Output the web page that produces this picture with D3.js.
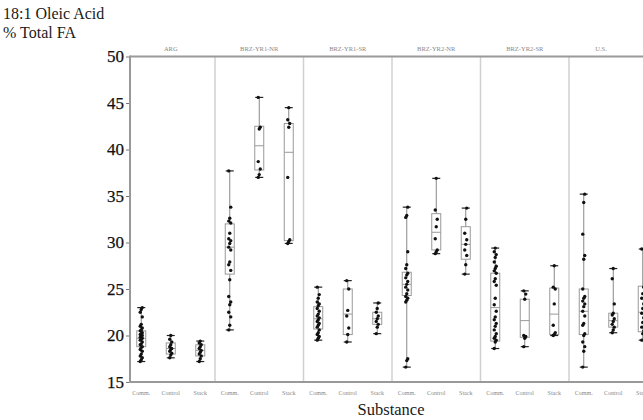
<!DOCTYPE html>
<html><head><meta charset="utf-8">
<script src="https://cdn.jsdelivr.net/npm/d3@7"></script>
<style>body{margin:0;background:#fff}svg{display:block}
svg text{font-family:"Liberation Serif","Times New Roman","DejaVu Serif",serif !important;}</style>
</head><body>
<svg id="c" width="643" height="420"></svg>
<script>
const panels = ["ARG","BRZ-YR1-NR","BRZ-YR1-SR","BRZ-YR2-NR","BRZ-YR2-SR","U.S."];
const substances = ["Comm.","Control","Stack"];
const yTicks = [15,20,25,30,35,40,45,50];

// box stats per panel: [min, q1, median, q3, max] for Comm., Control, Stack
const statsARG  = [[17.2,18.8,19.7,20.5,23.0],[17.6,18.0,18.6,19.2,20.0],[17.2,17.8,18.4,19.0,19.4]];
const statsYR1N = [[20.6,26.6,29.5,32.0,37.7],[37.0,37.8,40.4,42.5,45.6],[29.9,30.2,39.7,42.8,44.5]];
const statsYR1S = [[19.5,20.7,21.8,23.1,25.2],[19.3,20.1,22.3,25.0,25.9],[20.2,21.2,21.8,22.5,23.5]];
const statsYR2N = [[16.6,24.3,25.5,26.8,33.8],[28.8,29.2,31.1,33.1,36.9],[26.6,28.2,29.8,31.7,33.7]];
const statsYR2S = [[18.6,19.4,23.0,26.7,29.4],[18.8,19.8,21.6,23.9,24.8],[20.0,20.1,22.3,25.1,27.5]];
const statsUS   = [[16.6,20.1,22.6,25.0,35.2],[20.3,20.9,21.6,22.4,27.2],[19.5,20.4,22.5,25.3,29.3]];

// observations per panel for Comm., Control, Stack
const ptsARG = [
  [17.2,17.4,17.6,17.8,18.0,18.3,18.5,18.7,18.8,19.0,19.1,19.3,19.5,19.6,19.7,19.8,19.9,20.0,20.1,20.2,20.3,20.5,20.6,20.8,21.0,21.2,22.0,22.5,22.8,23.0],
  [17.6,17.9,18.1,18.3,18.5,18.6,18.8,19.0,19.3,19.6,20.0],
  [17.2,17.5,17.8,18.0,18.2,18.4,18.6,18.8,19.0,19.2,19.4]];
const ptsYR1N = [
  [20.6,21.1,22.0,22.5,23.3,23.6,24.2,26.0,27.0,27.6,27.9,29.2,29.5,29.9,30.2,30.4,31.0,32.1,32.3,32.6,33.8,37.7],
  [37.0,37.3,37.9,38.7,42.2,42.4,45.6],
  [29.9,30.1,30.3,37.0,42.4,42.8,43.2,44.5]];
const ptsYR1S = [
  [19.5,19.7,19.9,20.1,20.3,20.6,20.9,21.1,21.3,21.5,21.7,21.9,22.1,22.3,22.6,22.9,23.2,23.4,23.6,24.0,24.4,25.2],
  [19.3,20.1,20.8,22.1,22.7,25.0,25.9],
  [20.2,20.9,21.2,21.5,21.8,22.1,22.5,22.9,23.5]];
const ptsYR2N = [
  [16.6,17.3,17.5,23.6,23.8,24.0,24.2,24.5,24.9,25.2,25.5,25.8,26.2,26.5,26.7,27.2,27.6,29.0,32.7,32.9,33.8],
  [28.8,29.0,29.2,30.4,31.7,32.5,33.5,36.9],
  [26.6,27.6,28.6,29.2,29.8,30.3,31.0,32.5,33.7]];
const ptsYR2S = [
  [18.6,19.3,19.5,19.7,19.9,20.2,20.6,21.0,21.3,21.7,22.0,22.6,23.3,24.0,25.4,25.8,26.1,26.7,26.95,27.2,27.45,27.9,28.4,28.7,29.0,29.4],
  [18.8,19.7,19.9,20.0,23.9,24.45,24.8],
  [20.0,20.1,20.3,21.1,23.4,25.0,25.2,27.5]];
const ptsUS = [
  [16.6,18.3,18.8,19.3,20.0,20.2,21.1,21.3,22.1,22.6,23.1,23.4,23.7,24.0,24.2,25.0,28.2,28.6,30.9,34.3,35.2],
  [20.3,20.6,20.9,21.2,21.5,21.8,22.2,22.4,23.4,26.1,27.2],
  [19.5,20.2,20.5,20.9,21.4,21.9,22.4,22.9,23.4,24.0,24.5,25.2,29.3]];

const allStats = [statsARG,statsYR1N,statsYR1S,statsYR2N,statsYR2S,statsUS];
const allPts = [ptsARG,ptsYR1N,ptsYR1S,ptsYR2N,ptsYR2S,ptsUS];

(function(){
const svg = d3.select("#c");
const serif = '"Liberation Serif","Times New Roman","DejaVu Serif",serif';
const axisX = 130, plotTop = 56.5, plotBottom = 382, plotRight = 643;

const y = d3.scaleLinear().domain([15,50]).range([plotBottom, plotTop]);
const px = d3.scaleBand().domain(panels).range([126.5, 657.5]);
const sx = d3.scalePoint().domain(substances).range([0, px.bandwidth()]).padding(0.5);

// titles
svg.append("text").attr("x",3).attr("y",19).attr("font-size",16).attr("fill","#1a1a1a").text("18:1 Oleic Acid");
svg.append("text").attr("x",3).attr("y",38).attr("font-size",16).attr("fill","#1a1a1a").text("% Total FA");
svg.append("text").attr("x",391).attr("y",415).attr("text-anchor","middle").attr("font-size",16.5).attr("fill","#1a1a1a").text("Substance");

// panel dividers
panels.slice(1).forEach(p=>{
  svg.append("line").attr("x1",px(p)).attr("x2",px(p)).attr("y1",plotTop).attr("y2",plotBottom)
    .attr("stroke","#d0d0d0").attr("stroke-width",1.5);
});

// facet labels
svg.selectAll(".fl").data(panels).enter().append("text")
  .attr("x",(p,i)=> i===panels.length-1 ? px(p)+(plotRight-px(p))/2-5 : px(p)+px.bandwidth()/2)
  .attr("y",51)
  .attr("text-anchor","middle").attr("font-size",6.5).attr("fill","#888").text(p=>p);

// y axis
const yAxis = d3.axisLeft(y).tickValues(yTicks).tickSize(4).tickPadding(2).tickFormat(d3.format("d"));
const ga = svg.append("g").attr("transform",`translate(${axisX},0)`).call(yAxis);
ga.attr("font-family",serif).attr("font-size",17);
ga.select(".domain").remove();
ga.selectAll(".tick line").attr("stroke","#777");
ga.selectAll(".tick text").attr("font-size",17).attr("fill","#111")
  .attr("stroke","#111").attr("stroke-width",0.25);

// frame lines
svg.append("line").attr("x1",axisX).attr("x2",plotRight).attr("y1",plotTop).attr("y2",plotTop).attr("stroke","#999").attr("stroke-width",2);
svg.append("line").attr("x1",axisX).attr("x2",plotRight).attr("y1",plotBottom).attr("y2",plotBottom).attr("stroke","#999").attr("stroke-width",2);
svg.append("line").attr("x1",axisX).attr("x2",axisX).attr("y1",plotTop-1).attr("y2",plotBottom+1).attr("stroke","#999").attr("stroke-width",2);

// category labels
panels.forEach(p=>{
  substances.forEach(s=>{
    svg.append("text").attr("x",px(p)+sx(s)).attr("y",395).attr("text-anchor","middle")
      .attr("font-size",6).attr("fill","#888").text(s);
  });
});

// boxes
const bw = 9, cw = 8;
panels.forEach((p,pi)=>{
  substances.forEach((s,si)=>{
    const cx = px(p)+sx(s);
    const [mn,q1,md,q3,mx] = allStats[pi][si];
    const g = svg.append("g");
    g.append("line").attr("x1",cx).attr("x2",cx).attr("y1",y(mx)).attr("y2",y(q3)).attr("stroke","#888");
    g.append("line").attr("x1",cx).attr("x2",cx).attr("y1",y(q1)).attr("y2",y(mn)).attr("stroke","#888");
    g.append("rect").attr("x",cx-bw/2).attr("y",y(q3)).attr("width",bw).attr("height",Math.max(0.5,y(q1)-y(q3)))
      .attr("fill","none").attr("stroke","#999").attr("stroke-width",1);
    g.append("line").attr("x1",cx-bw/2).attr("x2",cx+bw/2).attr("y1",y(md)).attr("y2",y(md)).attr("stroke","#999");
    [mn,mx].forEach(v=>{
      g.append("line").attr("x1",cx-cw/2).attr("x2",cx+cw/2).attr("y1",y(v)).attr("y2",y(v)).attr("stroke","#222").attr("stroke-width",1.2);
    });
    g.selectAll("circle").data(allPts[pi][si]).enter().append("circle")
      .attr("cx",(d,i)=>cx + ((i%3)-1)*1.0).attr("cy",d=>y(d)).attr("r",1.7).attr("fill","#111");
  });
});
})();
</script>
</body></html>
